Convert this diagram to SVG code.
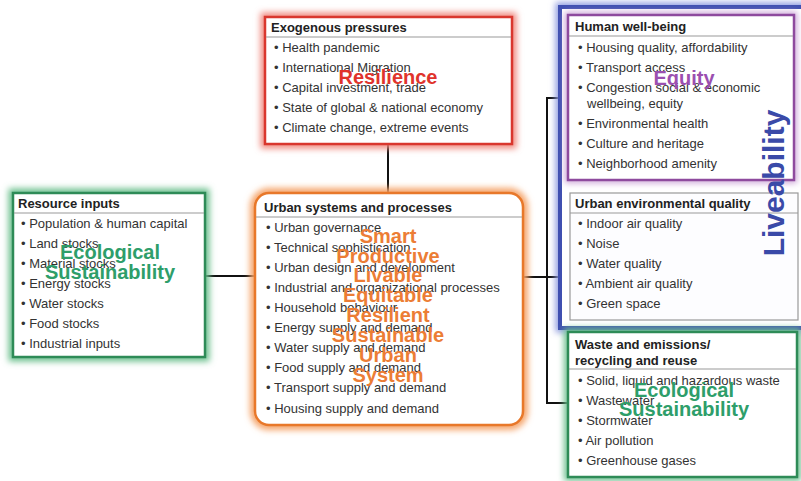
<svg xmlns="http://www.w3.org/2000/svg" width="801" height="481" viewBox="0 0 801 481">
<defs>
<filter id="glow" x="-20%" y="-20%" width="140%" height="140%"><feGaussianBlur stdDeviation="3"/></filter>
<style>
.t{font-family:"Liberation Sans",Arial,sans-serif;font-size:13px;fill:#333}
.h{font-family:"Liberation Sans",Arial,sans-serif;font-size:13px;font-weight:bold;fill:#222}
.sep{stroke:#999;stroke-width:1}
.box{fill:#fff}
.ov{font-family:"Liberation Sans",Arial,sans-serif;font-size:20px;font-weight:bold;text-anchor:middle}
.con{fill:none;stroke:#111;stroke-width:2}
</style>
</defs>
<rect width="801" height="481" fill="#fff"/>

<g id="connectors">
<line class="con" x1="205" y1="276" x2="255" y2="276"/>
<line class="con" x1="388" y1="144" x2="388" y2="193"/>
<line class="con" x1="523" y1="277" x2="570" y2="277"/>
<path class="con" d="M568,98 H547 V403 H568"/>
</g>

<g id="resource-inputs">
<rect x="13" y="193" width="192" height="164" fill="none" stroke="#6cc08e" stroke-width="9" filter="url(#glow)"/>
<rect class="box" x="13" y="193" width="192" height="164" stroke="#2e8b57" stroke-width="2.5"/>
<line class="sep" x1="14" y1="213" x2="204" y2="213"/>
<text class="h" x="18" y="208">Resource inputs</text>
<text class="t" x="21" y="228">• Population &amp; human capital</text>
<text class="t" x="21" y="248">• Land stocks</text>
<text class="t" x="21" y="268">• Material stocks</text>
<text class="t" x="21" y="288">• Energy stocks</text>
<text class="t" x="21" y="308">• Water stocks</text>
<text class="t" x="21" y="328">• Food stocks</text>
<text class="t" x="21" y="348">• Industrial inputs</text>
<text class="ov" x="110" y="259" fill="#2e9e6a">Ecological</text>
<text class="ov" x="110" y="279" fill="#2e9e6a">Sustainability</text>
</g>

<g id="exogenous-pressures">
<rect x="265" y="17" width="247" height="127" fill="none" stroke="#f08a80" stroke-width="9" filter="url(#glow)"/>
<rect class="box" x="265" y="17" width="247" height="127" stroke="#d9372e" stroke-width="2.5"/>
<line class="sep" x1="266" y1="37" x2="511" y2="37"/>
<text class="h" x="271" y="32">Exogenous pressures</text>
<text class="t" x="274" y="52">• Health pandemic</text>
<text class="t" x="274" y="72">• International Migration</text>
<text class="t" x="274" y="92">• Capital investment, trade</text>
<text class="t" x="274" y="112">• State of global &amp; national economy</text>
<text class="t" x="274" y="132">• Climate change, extreme events</text>
<text class="ov" x="388" y="84" fill="#e0332c">Resilience</text>
</g>

<g id="urban-systems">
<rect x="255" y="193" width="268" height="232" rx="14" fill="none" stroke="#f5a46a" stroke-width="10" filter="url(#glow)"/>
<rect class="box" x="255" y="193" width="268" height="232" rx="14" stroke="#e8782a" stroke-width="2.5"/>
<line class="sep" x1="256" y1="217" x2="522" y2="217"/>
<text class="h" x="264" y="212">Urban systems and processes</text>
<text class="t" x="266" y="232">• Urban governance</text>
<text class="t" x="266" y="252">• Technical sophistication</text>
<text class="t" x="266" y="272">• Urban design and development</text>
<text class="t" x="266" y="292">• Industrial and organizational processes</text>
<text class="t" x="266" y="312">• Household behaviour</text>
<text class="t" x="266" y="332">• Energy supply and demand</text>
<text class="t" x="266" y="352">• Water supply and demand</text>
<text class="t" x="266" y="372">• Food supply and demand</text>
<text class="t" x="266" y="392">• Transport supply and demand</text>
<text class="t" x="266" y="413">• Housing supply and demand</text>
<g fill="#ec7d35">
<text class="ov" x="388" y="243">Smart</text>
<text class="ov" x="388" y="263">Productive</text>
<text class="ov" x="388" y="282">Livable</text>
<text class="ov" x="388" y="302">Equitable</text>
<text class="ov" x="388" y="322">Resilient</text>
<text class="ov" x="388" y="342">Sustainable</text>
<text class="ov" x="388" y="362">Urban</text>
<text class="ov" x="388" y="382">System</text>
</g>
</g>

<g id="liveability">
<rect x="560" y="7" width="250" height="321" fill="none" stroke="#8f9be0" stroke-width="9" filter="url(#glow)"/>
<rect x="560" y="7" width="250" height="321" fill="#fff" stroke="#3f4fb0" stroke-width="4"/>
</g>

<g id="human-well-being">
<rect x="568" y="15" width="226" height="165" fill="none" stroke="#c9a0d6" stroke-width="6" filter="url(#glow)"/>
<rect class="box" x="568" y="15" width="226" height="165" stroke="#8e4a9e" stroke-width="2.5"/>
<line class="sep" x1="569" y1="36" x2="793" y2="36"/>
<text class="h" x="575" y="31">Human well-being</text>
<text class="t" x="578" y="52">• Housing quality, affordability</text>
<text class="t" x="578" y="72">• Transport access</text>
<text class="t" x="578" y="92">• Congestion social &amp; economic</text>
<text class="t" x="587" y="108">wellbeing, equity</text>
<text class="t" x="578" y="128">• Environmental health</text>
<text class="t" x="578" y="148">• Culture and heritage</text>
<text class="t" x="578" y="168">• Neighborhood amenity</text>
<text class="ov" x="684" y="85" fill="#9b4fb0">Equity</text>
</g>

<g id="urban-environmental-quality">
<rect x="570" y="193" width="228" height="127" fill="#fdfdff" stroke="#999" stroke-width="1.2"/>
<line class="sep" x1="570" y1="213" x2="798" y2="213"/>
<text class="h" x="575" y="208">Urban environmental quality</text>
<text class="t" x="578" y="228">• Indoor air quality</text>
<text class="t" x="578" y="248">• Noise</text>
<text class="t" x="578" y="268">• Water quality</text>
<text class="t" x="578" y="288">• Ambient air quality</text>
<text class="t" x="578" y="308">• Green space</text>
</g>

<text class="ov" transform="translate(784,183) rotate(-90)" style="font-size:30px" fill="#3a4aa8">Liveability</text>

<g id="waste-emissions">
<rect x="568" y="332" width="229" height="145" fill="none" stroke="#6cc08e" stroke-width="8" filter="url(#glow)"/>
<rect class="box" x="568" y="332" width="229" height="145" stroke="#2e8b57" stroke-width="2.5"/>
<line class="sep" x1="569" y1="369" x2="796" y2="369"/>
<text class="h" x="575" y="349">Waste and emissions/</text>
<text class="h" x="575" y="365">recycling and reuse</text>
<text class="t" x="578" y="385">• Solid, liquid and hazardous waste</text>
<text class="t" x="578" y="405">• Wastewater</text>
<text class="t" x="578" y="425">• Stormwater</text>
<text class="t" x="578" y="445">• Air pollution</text>
<text class="t" x="578" y="465">• Greenhouse gases</text>
<text class="ov" x="684" y="397" fill="#2e9e6a">Ecological</text>
<text class="ov" x="684" y="416" fill="#2e9e6a">Sustainability</text>
</g>
</svg>
